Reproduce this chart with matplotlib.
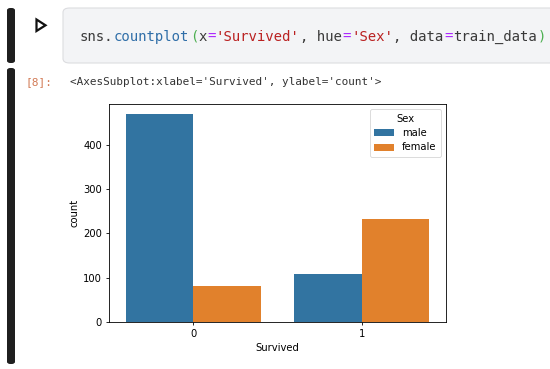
import matplotlib
matplotlib.use("Agg")
import matplotlib.pyplot as plt
import numpy as np
from matplotlib.patches import FancyBboxPatch, Polygon

# Data (Titanic counts)
survived = ["0", "1"]
sexes = ["male", "female"]
male_counts = [468, 109]
female_counts = [81, 233]
y_ticks = [0, 100, 200, 300, 400]

colors = {"male": "#3274a1", "female": "#e1812c"}

W, H = 550, 369
fig = plt.figure(figsize=(W / 100, H / 100), dpi=100)
fig.patch.set_facecolor("white")


def fx(px):
    return px / W


def fy(py):
    return 1 - py / H


# --- notebook chrome ---
# left cell bars
for y0, y1 in [(8, 63), (68, 364)]:
    fig.patches.append(FancyBboxPatch((fx(7), fy(y1)), fx(15) - fx(7), fy(y0) - fy(y1),
                                      boxstyle="round,pad=0,rounding_size=0.006",
                                      transform=fig.transFigure, facecolor="#1f1f1f",
                                      edgecolor="none", zorder=1))
# code box
fig.patches.append(FancyBboxPatch((fx(63), fy(63)), fx(556) - fx(63), fy(8) - fy(63),
                                  boxstyle="round,pad=0,rounding_size=0.012",
                                  transform=fig.transFigure, facecolor="#f3f4f6",
                                  edgecolor="#dcdde0", linewidth=0.8, zorder=1))
# run triangle
fig.patches.append(Polygon([(fx(36.5), fy(19.5)), (fx(36.5), fy(31)), (fx(45.5), fy(25.3))],
                           closed=True, transform=fig.transFigure, facecolor="white",
                           edgecolor="#111111", linewidth=1.6, joinstyle="miter", zorder=2))

# code line, coloured tokens
code_tokens = [
    ("sns.", "#3a3a3a"), ("countplot", "#2f6ea8"), ("(", "#4caf50"), ("x", "#3a3a3a"),
    ("=", "#aa22ff"), ("'Survived'", "#ba2121"), (", hue", "#3a3a3a"), ("=", "#aa22ff"),
    ("'Sex'", "#ba2121"), (", data", "#3a3a3a"), ("=", "#aa22ff"), ("train_data", "#3a3a3a"),
    (")", "#4caf50"),
]
char_w = 8.47
x_start = 80
pos = 0
for tok, col in code_tokens:
    fig.text(fx(x_start + pos * char_w), fy(37), tok, family="DejaVu Sans Mono",
             fontsize=10.1, color=col, va="center", ha="left")
    pos += len(tok)

fig.text(fx(26), fy(82), "[8]:", family="DejaVu Sans Mono", fontsize=8,
         color="#d27a55", va="center", ha="left")
fig.text(fx(70), fy(82), "<AxesSubplot:xlabel='Survived', ylabel='count'>",
         family="DejaVu Sans Mono", fontsize=7.9, color="#333333", va="center", ha="left")

# --- the countplot ---
ax = fig.add_axes([fx(109), fy(322), fx(446) - fx(109), fy(104) - fy(322)])
x = np.arange(len(survived))
width = 0.4
ax.bar(x - width / 2, male_counts, width, color=colors["male"], label="male")
ax.bar(x + width / 2, female_counts, width, color=colors["female"], label="female")
ax.set_xlim(-0.5, 1.5)
ax.set_ylim(0, max(male_counts + female_counts) * 1.05)
ax.set_xticks(x)
ax.set_xticklabels(survived)
ax.set_yticks(y_ticks)
ax.tick_params(labelsize=7.2, length=2.5, width=0.6, pad=2.5)
for s in ax.spines.values():
    s.set_linewidth(0.6)
ax.set_xlabel("Survived", fontsize=7.2, labelpad=3)
ax.set_ylabel("count", fontsize=7.2, labelpad=3)
leg = ax.legend(title="Sex", loc="upper right", fontsize=7.2, title_fontsize=7.2,
                framealpha=0.8, edgecolor="#cccccc", handlelength=2.0,
                borderpad=0.45, labelspacing=0.45)
leg.get_frame().set_linewidth(0.6)

fig.savefig("out.png", dpi=100)
